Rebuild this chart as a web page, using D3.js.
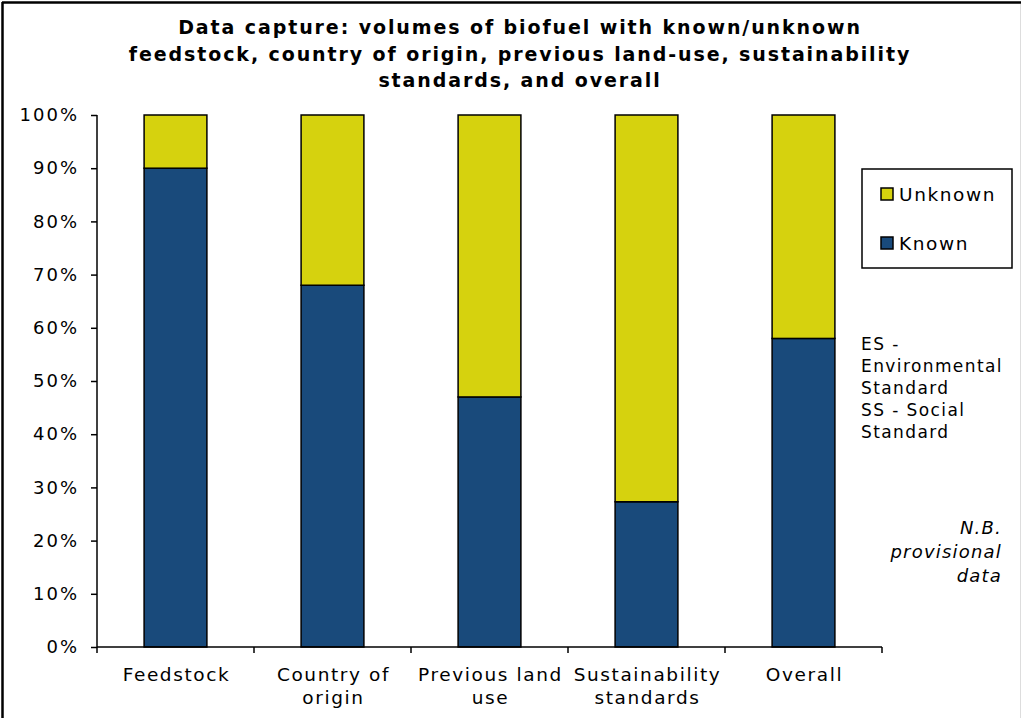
<!DOCTYPE html>
<html>
<head>
<meta charset="utf-8">
<script src="https://cdn.jsdelivr.net/npm/d3@7"></script>
<style>
  html, body { margin: 0; padding: 0; background: #fff; }
  svg { display: block; font-family: "DejaVu Sans", Verdana, sans-serif; }
</style>
</head>
<body>
<svg id="chart" width="1021" height="718"></svg>
<script>
const categories = [["Feedstock"], ["Country of", "origin"], ["Previous land", "use"], ["Sustainability", "standards"], ["Overall"]];
const categoryKeys = ["Feedstock", "Country of origin", "Previous land use", "Sustainability standards", "Overall"];
const knownValues = [0.90, 0.68, 0.47, 0.273, 0.58];
const unknownValues = [0.10, 0.32, 0.53, 0.727, 0.42];
const seriesNames = ["Unknown", "Known"];
const seriesColors = ["#D6D20E", "#194A7B"];
const yTicks = [0, 0.1, 0.2, 0.3, 0.4, 0.5, 0.6, 0.7, 0.8, 0.9, 1.0];
const titleLines = ["Data capture: volumes of biofuel with known/unknown", "feedstock, country of origin, previous land-use, sustainability", "standards, and overall"];
const noteLines = ["ES -", "Environmental", "Standard", "SS - Social", "Standard"];
const nbLines = ["N.B.", "provisional", "data"];

const svg = d3.select("#chart");

// frame
svg.append("rect").attr("x", 0).attr("y", 0).attr("width", 1021).attr("height", 718).attr("fill", "#fff");
svg.append("line").attr("x1", 2).attr("x2", 1021).attr("y1", 2.5).attr("y2", 2.5).attr("stroke", "#000").attr("stroke-width", 2.5);
svg.append("line").attr("x1", 2.5).attr("x2", 2.5).attr("y1", 2).attr("y2", 718).attr("stroke", "#000").attr("stroke-width", 2.5);
svg.append("line").attr("x1", 1020.5).attr("x2", 1020.5).attr("y1", 4).attr("y2", 718).attr("stroke", "#ddd").attr("stroke-width", 1);

const plot = { left: 97, right: 882, top: 115, bottom: 647 };

const x = d3.scaleBand().domain(categoryKeys).range([plot.left, plot.right]).padding(0);
const y = d3.scaleLinear().domain([0, 1]).range([plot.bottom, plot.top]);
const barW = x.bandwidth() * 0.4;

// Title
svg.append("text")
  .attr("x", 520).attr("y", 34)
  .attr("text-anchor", "middle")
  .attr("font-weight", "bold").attr("font-size", 19).attr("letter-spacing", 1.9).attr("fill", "#000")
  .selectAll("tspan").data(titleLines).join("tspan")
  .attr("x", 520).attr("dy", (d, i) => i === 0 ? 0 : 26.5)
  .text(d => d);

// stacked bars
const rows = categoryKeys.map((k, i) => ({ key: k, Known: knownValues[i], Unknown: unknownValues[i] }));
const stack = d3.stack().keys(["Known", "Unknown"]);
const stacked = stack(rows);
const colorOf = { Known: seriesColors[1], Unknown: seriesColors[0] };

svg.append("g").selectAll("g").data(stacked).join("g")
  .attr("fill", d => colorOf[d.key])
  .selectAll("rect").data(d => d).join("rect")
  .attr("x", d => x(d.data.key) + (x.bandwidth() - barW) / 2)
  .attr("width", barW)
  .attr("y", d => y(d[1]))
  .attr("height", d => y(d[0]) - y(d[1]))
  .attr("stroke", "#000").attr("stroke-width", 1.5);

// Y axis
const yAxis = svg.append("g").attr("transform", `translate(${plot.left},0)`)
  .call(d3.axisLeft(y).tickValues(yTicks).tickFormat(d3.format(".0%")).tickSize(6).tickPadding(12));
yAxis.select(".domain").attr("stroke", "#000").attr("stroke-width", 1.5).attr("d", `M-0,${plot.top}V${plot.bottom}`);
yAxis.selectAll(".tick line").attr("stroke", "#000").attr("stroke-width", 1.5);
yAxis.selectAll("text").attr("font-size", 18).attr("letter-spacing", 2).attr("font-family", "DejaVu Sans").attr("fill", "#000");

// X axis
const xAxis = svg.append("g").attr("transform", `translate(0,${plot.bottom})`);
xAxis.append("line").attr("x1", plot.left).attr("x2", plot.right).attr("y1", 0).attr("y2", 0)
  .attr("stroke", "#000").attr("stroke-width", 1.5);
const bounds = categoryKeys.map(k => x(k)).concat([x(categoryKeys[categoryKeys.length - 1]) + x.bandwidth()]);
xAxis.selectAll("line.tk").data(bounds).join("line").attr("class", "tk")
  .attr("x1", d => d).attr("x2", d => d).attr("y1", 0).attr("y2", 6)
  .attr("stroke", "#000").attr("stroke-width", 1.5);
xAxis.selectAll("text.lbl").data(categoryKeys).join("text").attr("class", "lbl")
  .attr("text-anchor", "middle").attr("font-size", 18.5).attr("letter-spacing", 1.6).attr("fill", "#000")
  .each(function(k, i) {
    d3.select(this).selectAll("tspan").data(categories[i]).join("tspan")
      .attr("x", x(k) + x.bandwidth() / 2 + 1)
      .attr("y", (d, j) => 34 + j * 23)
      .text(d => d);
  });

// Legend
const lg = svg.append("g");
lg.append("rect").attr("x", 862).attr("y", 169).attr("width", 150).attr("height", 99)
  .attr("fill", "#fff").attr("stroke", "#000").attr("stroke-width", 1.5);
const lgItems = lg.selectAll("g").data(seriesNames).join("g")
  .attr("transform", (d, i) => `translate(881,${188 + i * 49})`);
lgItems.append("rect").attr("width", 12).attr("height", 12)
  .attr("fill", (d, i) => seriesColors[i]).attr("stroke", "#000").attr("stroke-width", 1.5);
lgItems.append("text").attr("x", 18).attr("y", 12.5).attr("font-size", 18.5).attr("letter-spacing", 1.6).attr("fill", "#000").text(d => d);

// Notes
svg.append("text").attr("font-size", 17).attr("letter-spacing", 1.4).attr("fill", "#000")
  .selectAll("tspan").data(noteLines).join("tspan")
  .attr("x", 861).attr("y", (d, i) => 350 + i * 22).text(d => d);

svg.append("text").attr("font-size", 18).attr("letter-spacing", 1.2).attr("font-style", "italic").attr("text-anchor", "end").attr("fill", "#000")
  .selectAll("tspan").data(nbLines).join("tspan")
  .attr("x", 1002).attr("y", (d, i) => 534 + i * 24).text(d => d);
</script>
</body>
</html>
